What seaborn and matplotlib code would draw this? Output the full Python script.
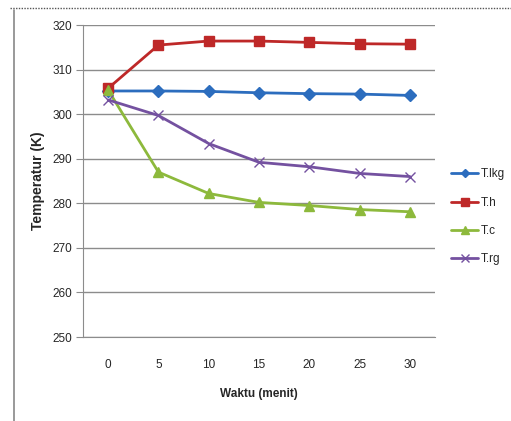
import pandas as pd
import numpy as np
import seaborn as sns
import matplotlib.pyplot as plt
from matplotlib.lines import Line2D

sns.set_style("white")
plt.rcParams['font.family'] = ['Liberation Sans Narrow', 'Liberation Sans', 'DejaVu Sans']

# data
waktu = [0, 5, 10, 15, 20, 25, 30]
t_lkg = [305.2, 305.2, 305.1, 304.8, 304.6, 304.5, 304.2]
t_h = [305.8, 315.5, 316.4, 316.4, 316.1, 315.8, 315.7]
t_c = [305.4, 287.0, 282.2, 280.2, 279.5, 278.6, 278.1]
t_rg = [303.2, 299.7, 293.4, 289.2, 288.2, 286.7, 286.0]
names = ['T.lkg', 'T.h', 'T.c', 'T.rg']

df = pd.DataFrame({'Waktu': waktu * 4,
                   'Temp': t_lkg + t_h + t_c + t_rg,
                   'seri': np.repeat(names, len(waktu))})

colors = {'T.lkg': '#2C6DBE', 'T.h': '#BE2828', 'T.c': '#8DB93C', 'T.rg': '#7451A0'}
markers = {'T.lkg': 'D', 'T.h': 's', 'T.c': '^', 'T.rg': 'x'}
msize = {'T.lkg': 6, 'T.h': 7.5, 'T.c': 7, 'T.rg': 7.5}

fig = plt.figure(figsize=(5.11, 4.21), dpi=100)
ax = fig.add_axes([0.1624, 0.1995, 0.6889, 0.7411])

for n in names:
    d = df[df.seri == n]
    sns.lineplot(data=d, x='Waktu', y='Temp', ax=ax, color=colors[n],
                 marker=markers[n], markersize=msize[n], linewidth=2,
                 markeredgecolor=colors[n], markeredgewidth=1, label=n)

ax.set_xlim(-2.5, 32.5)
ax.set_ylim(250, 320)
ax.set_xticks(waktu)
ax.set_yticks(range(250, 321, 10))
ax.yaxis.grid(True, color='#8c8c8c', linewidth=1)
ax.xaxis.grid(False)
for s in ['top', 'right']:
    ax.spines[s].set_visible(False)
ax.spines['left'].set_color('#8c8c8c')
ax.spines['bottom'].set_color('#8c8c8c')
ax.tick_params(axis='y', length=5, color='#8c8c8c', labelsize=8.5, pad=3, left=True)
ax.tick_params(axis='x', length=0, labelsize=8.5, pad=16)
ax.set_xlabel('Waktu (menit)', fontsize=8.5, fontweight='bold', labelpad=12)
ax.set_ylabel('Temperatur (K)', fontsize=10, fontweight='bold', labelpad=5)

ax.get_legend().remove()
h, l = ax.get_legend_handles_labels()
fig.legend(h, l, loc='upper left', bbox_to_anchor=(0.862, 0.625), frameon=False,
           fontsize=8.5, handlelength=2.3, handletextpad=0.2, labelspacing=1.38,
           markerscale=0.75)

# page decorations
fig.add_artist(Line2D([0.02, 1.0], [0.981, 0.981], color='#555555', linewidth=1,
                      linestyle=(0, (1, 1)), transform=fig.transFigure))
fig.add_artist(Line2D([0.0275, 0.0275], [0.0, 0.976], color='#888888', linewidth=1.2,
                      transform=fig.transFigure))

fig.savefig('out.png', dpi=100)
